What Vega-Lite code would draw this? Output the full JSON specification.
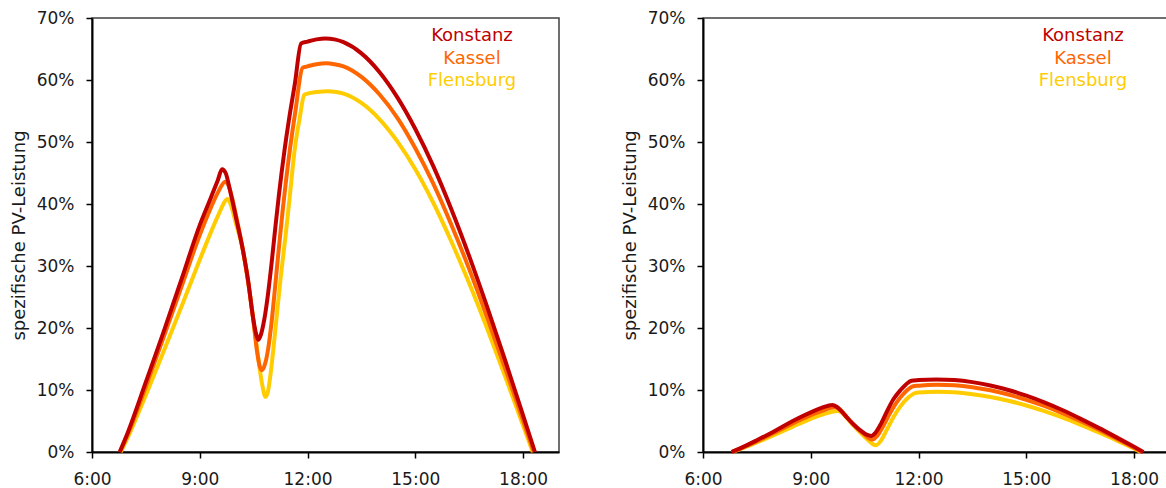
{
  "$schema": "https://vega.github.io/schema/vega-lite/v6.json",
  "background": "white",
  "padding": {"left": 9, "top": 8, "right": 0, "bottom": 0},
  "config": {
    "font": "DejaVu Sans",
    "view": {"stroke": "#404040", "strokeWidth": 1.5},
    "axis": {
      "grid": false,
      "domainColor": "#000000",
      "domainWidth": 2,
      "tickColor": "#000000",
      "tickWidth": 1.5,
      "tickSize": 6,
      "labelFont": "DejaVu Sans",
      "labelFontSize": 17,
      "labelColor": "#1a1a1a",
      "titleFont": "DejaVu Sans",
      "titleFontSize": 18,
      "titleFontWeight": "normal",
      "titleColor": "#1a1a1a",
      "labelFlush": false
    }
  },
  "data": {
    "values": [
      {"panel": "L", "city": "Flensburg", "h": 6.8, "pct": 0},
      {"panel": "L", "city": "Flensburg", "h": 7.0, "pct": 2.4},
      {"panel": "L", "city": "Flensburg", "h": 7.5, "pct": 9.2},
      {"panel": "L", "city": "Flensburg", "h": 8.0, "pct": 16.3},
      {"panel": "L", "city": "Flensburg", "h": 8.5, "pct": 23.6},
      {"panel": "L", "city": "Flensburg", "h": 9.0, "pct": 31.0},
      {"panel": "L", "city": "Flensburg", "h": 9.3, "pct": 35.3},
      {"panel": "L", "city": "Flensburg", "h": 9.5, "pct": 38.0},
      {"panel": "L", "city": "Flensburg", "h": 9.78, "pct": 40.8},
      {"panel": "L", "city": "Flensburg", "h": 9.88, "pct": 39.6},
      {"panel": "L", "city": "Flensburg", "h": 10.0, "pct": 37.0},
      {"panel": "L", "city": "Flensburg", "h": 10.2, "pct": 32.6},
      {"panel": "L", "city": "Flensburg", "h": 10.35, "pct": 27.3},
      {"panel": "L", "city": "Flensburg", "h": 10.48, "pct": 21.8},
      {"panel": "L", "city": "Flensburg", "h": 10.62, "pct": 15.5},
      {"panel": "L", "city": "Flensburg", "h": 10.75, "pct": 10.5},
      {"panel": "L", "city": "Flensburg", "h": 10.83, "pct": 8.9},
      {"panel": "L", "city": "Flensburg", "h": 10.9, "pct": 9.8},
      {"panel": "L", "city": "Flensburg", "h": 11.0, "pct": 14.0},
      {"panel": "L", "city": "Flensburg", "h": 11.1, "pct": 19.5},
      {"panel": "L", "city": "Flensburg", "h": 11.25, "pct": 28.0},
      {"panel": "L", "city": "Flensburg", "h": 11.4, "pct": 35.5},
      {"panel": "L", "city": "Flensburg", "h": 11.52, "pct": 42.0},
      {"panel": "L", "city": "Flensburg", "h": 11.63, "pct": 48.2},
      {"panel": "L", "city": "Flensburg", "h": 11.78, "pct": 53.8},
      {"panel": "L", "city": "Flensburg", "h": 11.91, "pct": 57.6},
      {"panel": "L", "city": "Flensburg", "h": 12.0, "pct": 57.8},
      {"panel": "L", "city": "Flensburg", "h": 12.25, "pct": 58.05},
      {"panel": "L", "city": "Flensburg", "h": 12.56, "pct": 58.2},
      {"panel": "L", "city": "Flensburg", "h": 12.8, "pct": 58.05},
      {"panel": "L", "city": "Flensburg", "h": 13.0, "pct": 57.8},
      {"panel": "L", "city": "Flensburg", "h": 13.5, "pct": 56.3},
      {"panel": "L", "city": "Flensburg", "h": 14.0, "pct": 53.7},
      {"panel": "L", "city": "Flensburg", "h": 14.5, "pct": 50.1},
      {"panel": "L", "city": "Flensburg", "h": 15.0, "pct": 45.6},
      {"panel": "L", "city": "Flensburg", "h": 15.5, "pct": 40.2},
      {"panel": "L", "city": "Flensburg", "h": 16.0, "pct": 34.0},
      {"panel": "L", "city": "Flensburg", "h": 16.5, "pct": 27.2},
      {"panel": "L", "city": "Flensburg", "h": 17.0, "pct": 19.9},
      {"panel": "L", "city": "Flensburg", "h": 17.5, "pct": 12.2},
      {"panel": "L", "city": "Flensburg", "h": 18.0, "pct": 4.3},
      {"panel": "L", "city": "Flensburg", "h": 18.27, "pct": 0},

      {"panel": "L", "city": "Kassel", "h": 6.78, "pct": 0},
      {"panel": "L", "city": "Kassel", "h": 7.0, "pct": 2.9},
      {"panel": "L", "city": "Kassel", "h": 7.5, "pct": 10.6},
      {"panel": "L", "city": "Kassel", "h": 8.0, "pct": 18.6},
      {"panel": "L", "city": "Kassel", "h": 8.5, "pct": 26.8},
      {"panel": "L", "city": "Kassel", "h": 9.0, "pct": 35.0},
      {"panel": "L", "city": "Kassel", "h": 9.3, "pct": 39.3},
      {"panel": "L", "city": "Kassel", "h": 9.5, "pct": 41.8},
      {"panel": "L", "city": "Kassel", "h": 9.71, "pct": 43.6},
      {"panel": "L", "city": "Kassel", "h": 9.8, "pct": 43.0},
      {"panel": "L", "city": "Kassel", "h": 9.92, "pct": 40.5},
      {"panel": "L", "city": "Kassel", "h": 10.05, "pct": 37.0},
      {"panel": "L", "city": "Kassel", "h": 10.2, "pct": 32.6},
      {"panel": "L", "city": "Kassel", "h": 10.35, "pct": 27.3},
      {"panel": "L", "city": "Kassel", "h": 10.48, "pct": 21.8},
      {"panel": "L", "city": "Kassel", "h": 10.6, "pct": 16.0},
      {"panel": "L", "city": "Kassel", "h": 10.67, "pct": 13.8},
      {"panel": "L", "city": "Kassel", "h": 10.73, "pct": 13.2},
      {"panel": "L", "city": "Kassel", "h": 10.8, "pct": 13.9},
      {"panel": "L", "city": "Kassel", "h": 10.9, "pct": 16.5},
      {"panel": "L", "city": "Kassel", "h": 11.0, "pct": 21.0},
      {"panel": "L", "city": "Kassel", "h": 11.1, "pct": 26.8},
      {"panel": "L", "city": "Kassel", "h": 11.2, "pct": 32.8},
      {"panel": "L", "city": "Kassel", "h": 11.3, "pct": 38.5},
      {"panel": "L", "city": "Kassel", "h": 11.48, "pct": 47.5},
      {"panel": "L", "city": "Kassel", "h": 11.65, "pct": 54.5},
      {"panel": "L", "city": "Kassel", "h": 11.87, "pct": 62.0},
      {"panel": "L", "city": "Kassel", "h": 12.0, "pct": 62.2},
      {"panel": "L", "city": "Kassel", "h": 12.25, "pct": 62.55},
      {"panel": "L", "city": "Kassel", "h": 12.52, "pct": 62.7},
      {"panel": "L", "city": "Kassel", "h": 12.75, "pct": 62.55},
      {"panel": "L", "city": "Kassel", "h": 13.0, "pct": 62.2},
      {"panel": "L", "city": "Kassel", "h": 13.5, "pct": 60.5},
      {"panel": "L", "city": "Kassel", "h": 14.0, "pct": 57.7},
      {"panel": "L", "city": "Kassel", "h": 14.5, "pct": 53.9},
      {"panel": "L", "city": "Kassel", "h": 15.0, "pct": 49.0},
      {"panel": "L", "city": "Kassel", "h": 15.5, "pct": 43.3},
      {"panel": "L", "city": "Kassel", "h": 16.0, "pct": 36.7},
      {"panel": "L", "city": "Kassel", "h": 16.5, "pct": 29.5},
      {"panel": "L", "city": "Kassel", "h": 17.0, "pct": 21.7},
      {"panel": "L", "city": "Kassel", "h": 17.5, "pct": 13.5},
      {"panel": "L", "city": "Kassel", "h": 18.0, "pct": 5.1},
      {"panel": "L", "city": "Kassel", "h": 18.3, "pct": 0},

      {"panel": "L", "city": "Konstanz", "h": 6.77, "pct": 0},
      {"panel": "L", "city": "Konstanz", "h": 7.0, "pct": 3.2},
      {"panel": "L", "city": "Konstanz", "h": 7.5, "pct": 11.3},
      {"panel": "L", "city": "Konstanz", "h": 8.0, "pct": 19.5},
      {"panel": "L", "city": "Konstanz", "h": 8.5, "pct": 28.0},
      {"panel": "L", "city": "Konstanz", "h": 9.0, "pct": 36.6},
      {"panel": "L", "city": "Konstanz", "h": 9.3, "pct": 40.9},
      {"panel": "L", "city": "Konstanz", "h": 9.5, "pct": 43.8},
      {"panel": "L", "city": "Konstanz", "h": 9.62, "pct": 45.6},
      {"panel": "L", "city": "Konstanz", "h": 9.72, "pct": 45.0},
      {"panel": "L", "city": "Konstanz", "h": 9.85, "pct": 42.0},
      {"panel": "L", "city": "Konstanz", "h": 10.0, "pct": 38.0},
      {"panel": "L", "city": "Konstanz", "h": 10.2, "pct": 32.6},
      {"panel": "L", "city": "Konstanz", "h": 10.35, "pct": 27.5},
      {"panel": "L", "city": "Konstanz", "h": 10.48, "pct": 21.8},
      {"panel": "L", "city": "Konstanz", "h": 10.57, "pct": 19.0},
      {"panel": "L", "city": "Konstanz", "h": 10.63, "pct": 18.1},
      {"panel": "L", "city": "Konstanz", "h": 10.7, "pct": 18.9},
      {"panel": "L", "city": "Konstanz", "h": 10.8, "pct": 21.5},
      {"panel": "L", "city": "Konstanz", "h": 10.9, "pct": 25.5},
      {"panel": "L", "city": "Konstanz", "h": 11.0, "pct": 30.5},
      {"panel": "L", "city": "Konstanz", "h": 11.1, "pct": 36.0},
      {"panel": "L", "city": "Konstanz", "h": 11.2, "pct": 41.3},
      {"panel": "L", "city": "Konstanz", "h": 11.36, "pct": 48.7},
      {"panel": "L", "city": "Konstanz", "h": 11.48, "pct": 53.5},
      {"panel": "L", "city": "Konstanz", "h": 11.65, "pct": 59.5},
      {"panel": "L", "city": "Konstanz", "h": 11.82, "pct": 65.9},
      {"panel": "L", "city": "Konstanz", "h": 12.0, "pct": 66.2},
      {"panel": "L", "city": "Konstanz", "h": 12.25, "pct": 66.55},
      {"panel": "L", "city": "Konstanz", "h": 12.5, "pct": 66.7},
      {"panel": "L", "city": "Konstanz", "h": 12.75, "pct": 66.55},
      {"panel": "L", "city": "Konstanz", "h": 13.0, "pct": 66.1},
      {"panel": "L", "city": "Konstanz", "h": 13.5, "pct": 64.3},
      {"panel": "L", "city": "Konstanz", "h": 14.0, "pct": 61.3},
      {"panel": "L", "city": "Konstanz", "h": 14.5, "pct": 57.2},
      {"panel": "L", "city": "Konstanz", "h": 15.0, "pct": 52.1},
      {"panel": "L", "city": "Konstanz", "h": 15.5, "pct": 46.1},
      {"panel": "L", "city": "Konstanz", "h": 16.0, "pct": 39.2},
      {"panel": "L", "city": "Konstanz", "h": 16.5, "pct": 31.6},
      {"panel": "L", "city": "Konstanz", "h": 17.0, "pct": 23.4},
      {"panel": "L", "city": "Konstanz", "h": 17.5, "pct": 14.8},
      {"panel": "L", "city": "Konstanz", "h": 18.0, "pct": 5.9},
      {"panel": "L", "city": "Konstanz", "h": 18.33, "pct": 0},

      {"panel": "R", "city": "Flensburg", "h": 6.82, "pct": 0},
      {"panel": "R", "city": "Flensburg", "h": 7.0, "pct": 0.4},
      {"panel": "R", "city": "Flensburg", "h": 7.5, "pct": 1.55},
      {"panel": "R", "city": "Flensburg", "h": 8.0, "pct": 2.8},
      {"panel": "R", "city": "Flensburg", "h": 8.5, "pct": 4.1},
      {"panel": "R", "city": "Flensburg", "h": 9.0, "pct": 5.35},
      {"panel": "R", "city": "Flensburg", "h": 9.3, "pct": 6.0},
      {"panel": "R", "city": "Flensburg", "h": 9.75, "pct": 6.6},
      {"panel": "R", "city": "Flensburg", "h": 9.87, "pct": 6.3},
      {"panel": "R", "city": "Flensburg", "h": 10.0, "pct": 5.5},
      {"panel": "R", "city": "Flensburg", "h": 10.2, "pct": 4.2},
      {"panel": "R", "city": "Flensburg", "h": 10.4, "pct": 3.0},
      {"panel": "R", "city": "Flensburg", "h": 10.6, "pct": 1.9},
      {"panel": "R", "city": "Flensburg", "h": 10.72, "pct": 1.3},
      {"panel": "R", "city": "Flensburg", "h": 10.82, "pct": 1.1},
      {"panel": "R", "city": "Flensburg", "h": 10.95, "pct": 1.8},
      {"panel": "R", "city": "Flensburg", "h": 11.1, "pct": 3.4},
      {"panel": "R", "city": "Flensburg", "h": 11.3, "pct": 5.6},
      {"panel": "R", "city": "Flensburg", "h": 11.5, "pct": 7.4},
      {"panel": "R", "city": "Flensburg", "h": 11.7, "pct": 8.7},
      {"panel": "R", "city": "Flensburg", "h": 11.9, "pct": 9.5},
      {"panel": "R", "city": "Flensburg", "h": 12.0, "pct": 9.6},
      {"panel": "R", "city": "Flensburg", "h": 12.55, "pct": 9.7},
      {"panel": "R", "city": "Flensburg", "h": 13.0, "pct": 9.62},
      {"panel": "R", "city": "Flensburg", "h": 13.5, "pct": 9.33},
      {"panel": "R", "city": "Flensburg", "h": 14.0, "pct": 8.88},
      {"panel": "R", "city": "Flensburg", "h": 14.5, "pct": 8.27},
      {"panel": "R", "city": "Flensburg", "h": 15.0, "pct": 7.5},
      {"panel": "R", "city": "Flensburg", "h": 15.5, "pct": 6.6},
      {"panel": "R", "city": "Flensburg", "h": 16.0, "pct": 5.58},
      {"panel": "R", "city": "Flensburg", "h": 16.5, "pct": 4.43},
      {"panel": "R", "city": "Flensburg", "h": 17.0, "pct": 3.2},
      {"panel": "R", "city": "Flensburg", "h": 17.5, "pct": 1.92},
      {"panel": "R", "city": "Flensburg", "h": 18.0, "pct": 0.55},
      {"panel": "R", "city": "Flensburg", "h": 18.18, "pct": 0},

      {"panel": "R", "city": "Kassel", "h": 6.8, "pct": 0},
      {"panel": "R", "city": "Kassel", "h": 7.0, "pct": 0.45},
      {"panel": "R", "city": "Kassel", "h": 7.5, "pct": 1.75},
      {"panel": "R", "city": "Kassel", "h": 8.0, "pct": 3.15},
      {"panel": "R", "city": "Kassel", "h": 8.5, "pct": 4.6},
      {"panel": "R", "city": "Kassel", "h": 9.0, "pct": 5.95},
      {"panel": "R", "city": "Kassel", "h": 9.3, "pct": 6.6},
      {"panel": "R", "city": "Kassel", "h": 9.68, "pct": 7.2},
      {"panel": "R", "city": "Kassel", "h": 9.8, "pct": 6.9},
      {"panel": "R", "city": "Kassel", "h": 9.95, "pct": 6.0},
      {"panel": "R", "city": "Kassel", "h": 10.1, "pct": 5.0},
      {"panel": "R", "city": "Kassel", "h": 10.3, "pct": 3.8},
      {"panel": "R", "city": "Kassel", "h": 10.5, "pct": 2.8},
      {"panel": "R", "city": "Kassel", "h": 10.62, "pct": 2.2},
      {"panel": "R", "city": "Kassel", "h": 10.72, "pct": 2.0},
      {"panel": "R", "city": "Kassel", "h": 10.85, "pct": 2.6},
      {"panel": "R", "city": "Kassel", "h": 11.0, "pct": 4.0},
      {"panel": "R", "city": "Kassel", "h": 11.2, "pct": 6.2},
      {"panel": "R", "city": "Kassel", "h": 11.4, "pct": 8.1},
      {"panel": "R", "city": "Kassel", "h": 11.6, "pct": 9.5},
      {"panel": "R", "city": "Kassel", "h": 11.85, "pct": 10.6},
      {"panel": "R", "city": "Kassel", "h": 12.0, "pct": 10.7},
      {"panel": "R", "city": "Kassel", "h": 12.52, "pct": 10.85},
      {"panel": "R", "city": "Kassel", "h": 13.0, "pct": 10.76},
      {"panel": "R", "city": "Kassel", "h": 13.5, "pct": 10.45},
      {"panel": "R", "city": "Kassel", "h": 14.0, "pct": 9.95},
      {"panel": "R", "city": "Kassel", "h": 14.5, "pct": 9.27},
      {"panel": "R", "city": "Kassel", "h": 15.0, "pct": 8.42},
      {"panel": "R", "city": "Kassel", "h": 15.5, "pct": 7.42},
      {"panel": "R", "city": "Kassel", "h": 16.0, "pct": 6.28},
      {"panel": "R", "city": "Kassel", "h": 16.5, "pct": 5.0},
      {"panel": "R", "city": "Kassel", "h": 17.0, "pct": 3.64},
      {"panel": "R", "city": "Kassel", "h": 17.5, "pct": 2.2},
      {"panel": "R", "city": "Kassel", "h": 18.0, "pct": 0.7},
      {"panel": "R", "city": "Kassel", "h": 18.22, "pct": 0},

      {"panel": "R", "city": "Konstanz", "h": 6.8, "pct": 0},
      {"panel": "R", "city": "Konstanz", "h": 7.0, "pct": 0.5},
      {"panel": "R", "city": "Konstanz", "h": 7.5, "pct": 1.9},
      {"panel": "R", "city": "Konstanz", "h": 8.0, "pct": 3.4},
      {"panel": "R", "city": "Konstanz", "h": 8.5, "pct": 5.0},
      {"panel": "R", "city": "Konstanz", "h": 9.0, "pct": 6.4},
      {"panel": "R", "city": "Konstanz", "h": 9.3, "pct": 7.1},
      {"panel": "R", "city": "Konstanz", "h": 9.6, "pct": 7.6},
      {"panel": "R", "city": "Konstanz", "h": 9.72, "pct": 7.3},
      {"panel": "R", "city": "Konstanz", "h": 9.85, "pct": 6.6},
      {"panel": "R", "city": "Konstanz", "h": 10.0, "pct": 5.6},
      {"panel": "R", "city": "Konstanz", "h": 10.2, "pct": 4.4},
      {"panel": "R", "city": "Konstanz", "h": 10.4, "pct": 3.4},
      {"panel": "R", "city": "Konstanz", "h": 10.55, "pct": 2.8},
      {"panel": "R", "city": "Konstanz", "h": 10.69, "pct": 2.6},
      {"panel": "R", "city": "Konstanz", "h": 10.8, "pct": 3.1},
      {"panel": "R", "city": "Konstanz", "h": 10.95, "pct": 4.5},
      {"panel": "R", "city": "Konstanz", "h": 11.1, "pct": 6.3},
      {"panel": "R", "city": "Konstanz", "h": 11.3, "pct": 8.5},
      {"panel": "R", "city": "Konstanz", "h": 11.5, "pct": 10.0},
      {"panel": "R", "city": "Konstanz", "h": 11.65, "pct": 10.9},
      {"panel": "R", "city": "Konstanz", "h": 11.8, "pct": 11.5},
      {"panel": "R", "city": "Konstanz", "h": 12.0, "pct": 11.6},
      {"panel": "R", "city": "Konstanz", "h": 12.5, "pct": 11.7},
      {"panel": "R", "city": "Konstanz", "h": 13.0, "pct": 11.6},
      {"panel": "R", "city": "Konstanz", "h": 13.5, "pct": 11.27},
      {"panel": "R", "city": "Konstanz", "h": 14.0, "pct": 10.73},
      {"panel": "R", "city": "Konstanz", "h": 14.5, "pct": 10.0},
      {"panel": "R", "city": "Konstanz", "h": 15.0, "pct": 9.08},
      {"panel": "R", "city": "Konstanz", "h": 15.5, "pct": 8.0},
      {"panel": "R", "city": "Konstanz", "h": 16.0, "pct": 6.77},
      {"panel": "R", "city": "Konstanz", "h": 16.5, "pct": 5.39},
      {"panel": "R", "city": "Konstanz", "h": 17.0, "pct": 3.93},
      {"panel": "R", "city": "Konstanz", "h": 17.5, "pct": 2.4},
      {"panel": "R", "city": "Konstanz", "h": 18.0, "pct": 0.83},
      {"panel": "R", "city": "Konstanz", "h": 18.26, "pct": 0}
    ]
  },
  "spacing": 60,
  "hconcat": [
    {
      "width": 467,
      "height": 434,
      "transform": [{"filter": "datum.panel == 'L'"}],
      "mark": {"type": "line", "strokeWidth": 4, "interpolate": "monotone"},
      "encoding": {
        "x": {"field": "h", "type": "quantitative", "scale": {"domain": [6, 19], "nice": false, "zero": false},
          "axis": {"values": [6, 9, 12, 15, 18], "labelExpr": "datum.value + ':00'", "title": null, "labelPadding": 13}},
        "y": {"field": "pct", "type": "quantitative", "scale": {"domain": [0, 70], "nice": false},
          "axis": {"values": [0, 10, 20, 30, 40, 50, 60, 70], "labelExpr": "datum.value + '%'", "title": "spezifische PV-Leistung", "labelPadding": 12, "titlePadding": 8}},
        "color": {"field": "city", "type": "nominal",
          "scale": {"domain": ["Konstanz", "Kassel", "Flensburg"], "range": ["#C00000", "#FF6600", "#FFCC00"]},
          "legend": {"orient": "none", "legendX": 362, "legendY": 9, "title": null, "padding": 0,
            "symbolSize": 0, "symbolOpacity": 0, "symbolStrokeWidth": 0, "labelOffset": 0,
            "labelAlign": "center", "labelFontSize": 18, "labelFont": "DejaVu Sans", "rowPadding": 4.5,
            "labelColor": {"expr": "datum.label == 'Konstanz' ? '#C00000' : datum.label == 'Kassel' ? '#FF6600' : '#FFCC00'"}}}
      }
    },
    {
      "width": 467,
      "height": 434,
      "transform": [{"filter": "datum.panel == 'R'"}],
      "mark": {"type": "line", "strokeWidth": 4, "interpolate": "monotone"},
      "encoding": {
        "x": {"field": "h", "type": "quantitative", "scale": {"domain": [6, 19], "nice": false, "zero": false},
          "axis": {"values": [6, 9, 12, 15, 18], "labelExpr": "datum.value + ':00'", "title": null, "labelPadding": 13}},
        "y": {"field": "pct", "type": "quantitative", "scale": {"domain": [0, 70], "nice": false},
          "axis": {"values": [0, 10, 20, 30, 40, 50, 60, 70], "labelExpr": "datum.value + '%'", "title": "spezifische PV-Leistung", "labelPadding": 12, "titlePadding": 8}},
        "color": {"field": "city", "type": "nominal",
          "scale": {"domain": ["Konstanz", "Kassel", "Flensburg"], "range": ["#C00000", "#FF6600", "#FFCC00"]},
          "legend": {"orient": "none", "legendX": 362, "legendY": 9, "title": null, "padding": 0,
            "symbolSize": 0, "symbolOpacity": 0, "symbolStrokeWidth": 0, "labelOffset": 0,
            "labelAlign": "center", "labelFontSize": 18, "labelFont": "DejaVu Sans", "rowPadding": 4.5,
            "labelColor": {"expr": "datum.label == 'Konstanz' ? '#C00000' : datum.label == 'Kassel' ? '#FF6600' : '#FFCC00'"}}}
      }
    }
  ],
  "resolve": {"legend": {"color": "independent"}}
}
